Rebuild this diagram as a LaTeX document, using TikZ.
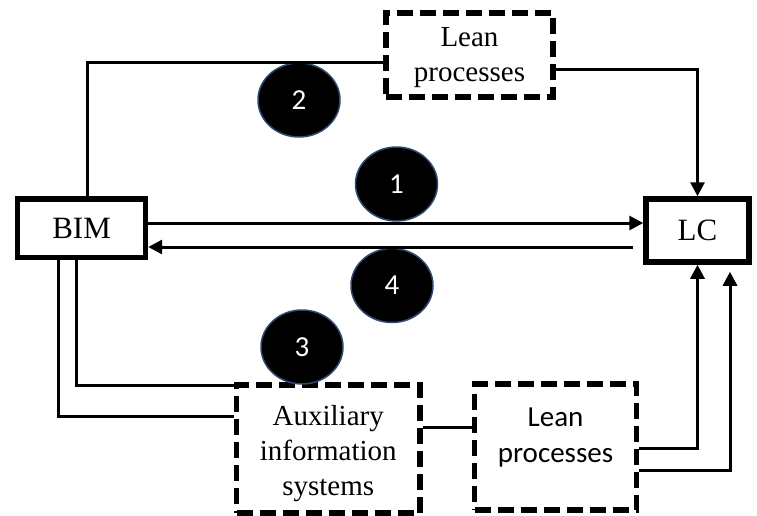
\documentclass[tikz,border=0pt]{standalone}
\usepackage{fontspec}
\setmainfont{Liberation Serif}
\newfontfamily\calibri{Carlito}
\usetikzlibrary{arrows.meta,shapes.geometric}
\definecolor{rimblue}{HTML}{2F4A72}

\begin{document}
\begin{tikzpicture}[x=1pt,y=-1pt,
  mainbox/.style={draw, line width=5.5pt, inner sep=0pt,
    font=\fontsize{31}{36}\selectfont},
  dashbox/.style={draw, line width=5.5pt, inner sep=0pt,
    dash pattern=on 16pt off 7pt},
  boxtext/.style={align=center, inner sep=0pt,
    font=\fontsize{29}{35}\selectfont},
  badge/.style={ellipse, fill=black, draw=rimblue, line width=1.5pt,
    minimum width=82pt, minimum height=74pt, inner sep=0pt,
    text=white, font=\calibri\fontsize{29}{32}\selectfont},
  conn/.style={line width=3pt},
  arr/.style={conn, -{Triangle[length=14pt,width=14pt]}}]

\useasboundingbox (0,0) rectangle (757,515);

% main blocks
\node[mainbox, minimum width=127.75pt, minimum height=58.5pt] (bim) at (81.6,228) {BIM};
\node[mainbox, minimum width=103pt, minimum height=63pt] (lc) at (697.5,230.5) {LC};

% dashed process blocks, captions placed inside as labels
\node[dashbox, minimum width=167pt, minimum height=84pt,
  label={[name=lean1text, boxtext, yshift=-3pt]center:Lean\\processes}]
  (lean1) at (469.5,55) {};
\node[dashbox, minimum width=183.5pt, minimum height=128pt,
  label={[name=auxtext, boxtext, yshift=-5pt]center:Auxiliary\\information\\systems}]
  (aux) at (328.25,449) {};
\node[dashbox, minimum width=162pt, minimum height=126pt,
  label={[name=lean2text, boxtext, font=\calibri\fontsize{29}{36}\selectfont, yshift=9pt]center:Lean\\processes}]
  (lean2) at (555.5,447) {};

% numbered badges
\node[badge] (c1) at (396.5,184) {1};
\node[badge] (c2) at (299,100) {2};
\node[badge] (c3) at (302,347) {3};
\node[badge] (c4) at (392,285.5) {4};

% path 2: BIM -> lean processes -> LC
\draw[conn] ([xshift=5.4pt]bim.north) |- ([yshift=-7pt]lean1.west);
\draw[arr] ([yshift=-14pt]lean1.east) -| (lc.north);

% paths 1 and 4: direct exchange
\draw[arr] ([yshift=5pt]bim.east) -- ([yshift=7.5pt]lc.west);
\draw[arr, shorten <=10pt] ([yshift=-16.5pt]lc.west) -- ([yshift=-19pt]bim.east);

% path 3: BIM -> auxiliary systems -> lean processes -> LC
\draw[conn] ([xshift=-5.6pt]bim.south) |- ([yshift=64pt]aux.west);
\draw[conn] ([xshift=-23.6pt]bim.south) |- ([yshift=33pt]aux.west);
\draw[conn] ([yshift=22pt]aux.east) -- ([yshift=20pt]lean2.west);
\draw[arr] ([yshift=-1pt]lean2.east) -| (lc.south);
\draw[arr, shorten >=7pt] ([yshift=-23pt]lean2.east) -| ([xshift=32.5pt]lc.south);

\end{tikzpicture}
\end{document}
